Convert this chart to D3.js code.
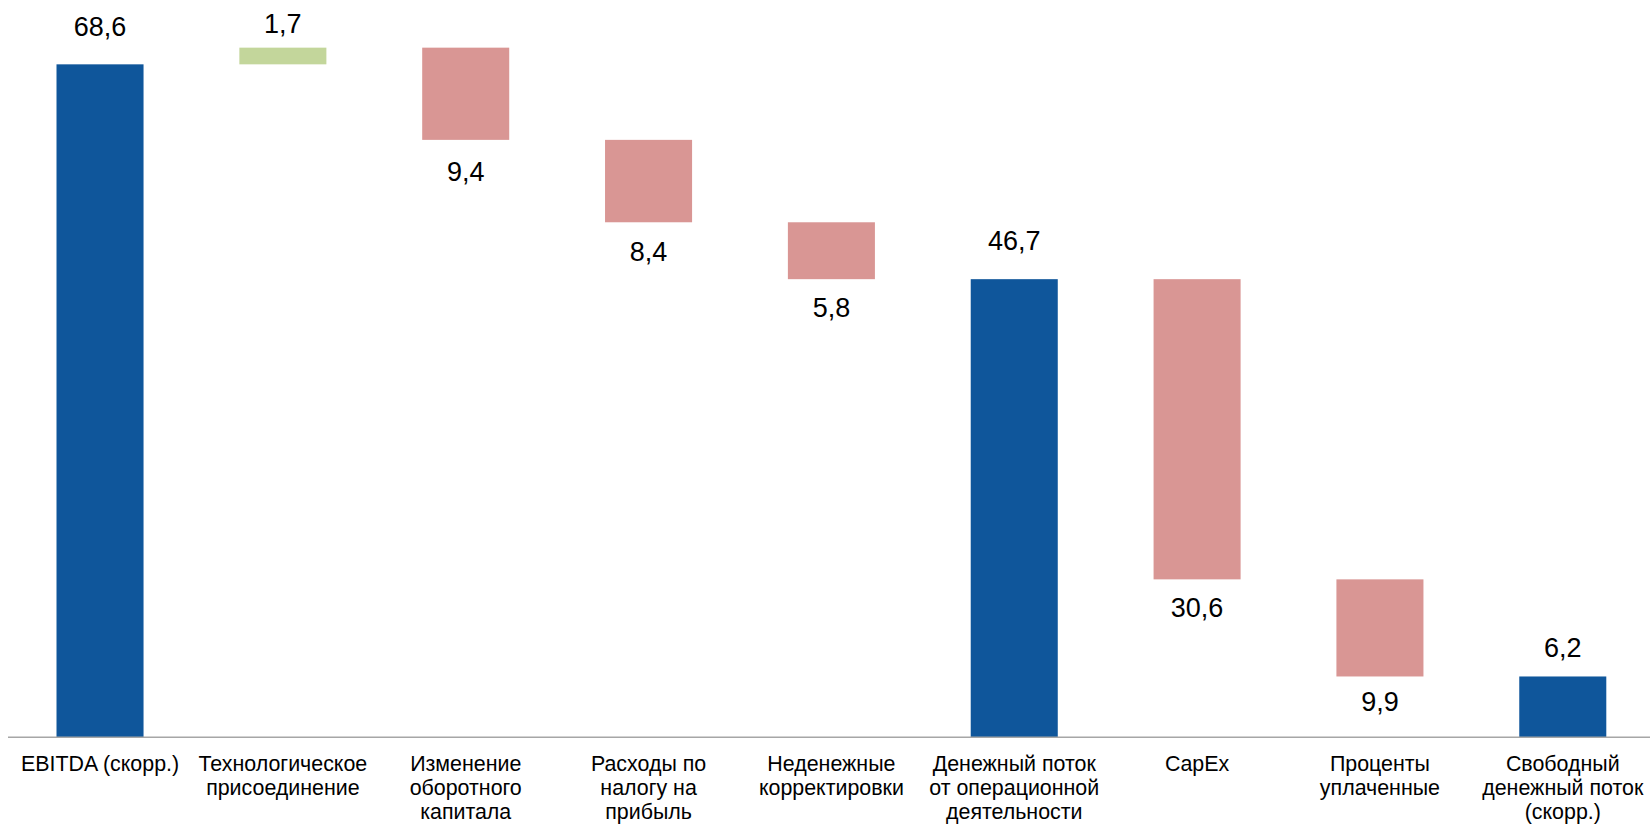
<!DOCTYPE html>
<html lang="ru">
<head>
<meta charset="utf-8">
<title>Денежный поток</title>
<script src="https://cdn.jsdelivr.net/npm/d3@7"></script>
<style>
  html, body { margin: 0; padding: 0; background: #ffffff; }
  svg { display: block; font-family: Arial, "Liberation Sans", sans-serif; }
</style>
</head>
<body>
<svg id="chart" width="1650" height="829"></svg>
<script>
// Categories (line breaks mark how the axis labels wrap)
const categories = [
  "EBITDA (скорр.)",
  "Технологическое\nприсоединение",
  "Изменение\nоборотного\nкапитала",
  "Расходы по\nналогу на\nприбыль",
  "Неденежные\nкорректировки",
  "Денежный поток\nот операционной\nдеятельности",
  "CapEx",
  "Проценты\nуплаченные",
  "Свободный\nденежный поток\n(скорр.)"
];

// Step values: totals are absolute, the rest are changes
const values = [68.6, 1.7, -9.4, -8.4, -5.8, 46.7, -30.6, -9.9, 6.2];
const kinds  = ["total", "step", "step", "step", "step", "total", "step", "step", "total"];

// Printed value labels
const valueLabels = ["68,6", "1,7", "9,4", "8,4", "5,8", "46,7", "30,6", "9,9", "6,2"];

// Distance between each value label's baseline and its bar edge
const labelGap = [28, 15, 41, 39, 38, 29, 38, 35, 19];

const colors = { total: "#0F569B", up: "#C3D69B", down: "#D99694" };

// Build the floating segments of the waterfall
let running = 0;
const bars = values.map((v, i) => {
  let y0, y1, type;
  if (kinds[i] === "total") {
    y0 = 0; y1 = v; running = v; type = "total";
  } else {
    y0 = running; y1 = running + v; running = y1;
    type = v >= 0 ? "up" : "down";
  }
  return { cat: categories[i], lo: Math.min(y0, y1), hi: Math.max(y0, y1), type, label: valueLabels[i], gap: labelGap[i] };
});

const svg = d3.select("#chart");
const baseY = 737.3;

const x = d3.scaleBand()
  .domain(categories)
  .range([8.6, 1654.2])
  .paddingInner(0.524)
  .paddingOuter(0.262);

const y = d3.scaleLinear()
  .domain([0, 75])
  .range([baseY, baseY - 9.81 * 75]);

// Bars
svg.append("g")
  .selectAll("rect")
  .data(bars)
  .join("rect")
  .attr("x", d => x(d.cat))
  .attr("width", x.bandwidth())
  .attr("y", d => y(d.hi))
  .attr("height", d => y(d.lo) - y(d.hi))
  .attr("fill", d => colors[d.type]);

// Value labels: above totals and increases, below decreases
svg.append("g")
  .selectAll("text")
  .data(bars)
  .join("text")
  .attr("x", d => x(d.cat) + x.bandwidth() / 2)
  .attr("y", d => d.type === "down" ? y(d.lo) + d.gap : y(d.hi) - d.gap)
  .attr("text-anchor", "middle")
  .attr("font-size", 27)
  .attr("fill", "#000")
  .text(d => d.label);

// Category axis
const axis = svg.append("g")
  .attr("transform", `translate(0,${baseY})`)
  .call(d3.axisBottom(x).tickSize(0).tickPadding(0));
axis.select(".domain").remove();
axis.append("line")
  .attr("x1", 8).attr("x2", 1650)
  .attr("y1", 0).attr("y2", 0)
  .attr("stroke", "#A6A6A6")
  .attr("stroke-width", 1.5);

axis.selectAll(".tick text").each(function(d) {
  const t = d3.select(this);
  t.text(null)
    .attr("y", 0)
    .attr("dy", null)
    .attr("fill", "#000")
    .attr("font-size", 21.4)
    .attr("font-family", "Arial, 'Liberation Sans', sans-serif");
  d.split("\n").forEach((line, k) => {
    t.append("tspan")
      .attr("x", 0)
      .attr("y", 34 + k * 24)
      .text(line);
  });
});
</script>
</body>
</html>
